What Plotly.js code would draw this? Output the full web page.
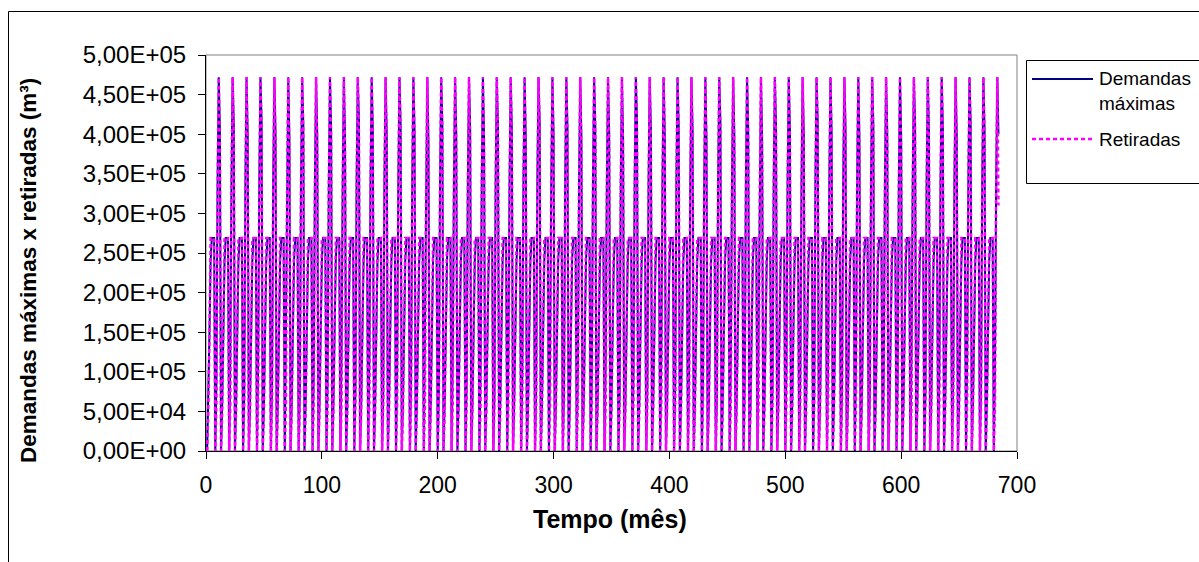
<!DOCTYPE html>
<html>
<head>
<meta charset="utf-8">
<script src="https://cdn.plot.ly/plotly-3.0.1.min.js"></script>
<style>
html,body{margin:0;padding:0;background:#fff;}
#chart{width:1199px;height:562px;}
</style>
</head>
<body>
<div id="chart"></div>
<script>
// ---- data (monthly values, m³) ----
var nYears = 57;
// typical monthly shape within a year (months 1..11); months 9 and 12 vary per year
var demCycle = [0, 60000, 150000, 240000, 269000, 269000, 269000, 0, 90000, 340000, 472000];
var retCycle = [0, 50000, 150000, 269000, 269000, 269000, 269000, 0, 60000, 330000, 472000];
// month-9 demand for each year (start of the rise to the annual peak)
var demMonth9 = [90000, 120000, 70000, 110000, 85000, 130000, 75000, 100000, 95000, 125000,
  80000, 115000, 70000, 105000, 90000, 130000, 78000, 118000, 88000, 100000,
  72000, 122000, 95000, 84000, 128000, 76000, 110000, 92000, 120000, 70000,
  104000, 86000, 126000, 80000, 112000, 94000, 74000, 118000, 90000, 130000,
  82000, 106000, 98000, 72000, 124000, 88000, 114000, 78000, 102000, 92000,
  128000, 76000, 108000, 96000, 120000, 84000, 110000];
// month-12 values for each year (post-peak shoulder)
var demMonth12 = [405000, 410000, 398000, 415000, 402000, 395000, 412000, 400000, 408000, 396000,
  418000, 403000, 399000, 410000, 405000, 392000, 414000, 401000, 407000, 397000,
  411000, 404000, 394000, 416000, 400000, 409000, 398000, 413000, 402000, 395000,
  417000, 406000, 399000, 410000, 403000, 393000, 415000, 400000, 408000, 396000,
  412000, 404000, 398000, 414000, 401000, 407000, 395000, 411000, 403000, 399000,
  416000, 402000, 409000, 397000, 413000, 405000, 400000];
var retMonth12 = [380000, 395000, 372000, 400000, 385000, 370000, 398000, 382000, 390000, 375000,
  402000, 384000, 377000, 393000, 388000, 368000, 399000, 381000, 389000, 374000,
  396000, 386000, 371000, 401000, 380000, 391000, 376000, 397000, 383000, 372000,
  403000, 387000, 378000, 394000, 385000, 369000, 400000, 381000, 390000, 375000,
  397000, 386000, 377000, 399000, 382000, 389000, 373000, 395000, 384000, 378000,
  402000, 383000, 392000, 376000, 398000, 387000, 310000];
var xTickVals = [0, 100, 200, 300, 400, 500, 600, 700];
var yTickVals = [0, 50000, 100000, 150000, 200000, 250000, 300000, 350000, 400000, 450000, 500000];
var yTickText = ["0,00E+00", "5,00E+04", "1,00E+05", "1,50E+05", "2,00E+05", "2,50E+05",
  "3,00E+05", "3,50E+05", "4,00E+05", "4,50E+05", "5,00E+05"];

// ---- assemble monthly series from the arrays above ----
var months = [], demandas = [], retiradas = [];
for (var y = 0; y < nYears; y++) {
  for (var m = 0; m < 12; m++) {
    months.push(y * 12 + m + 1);
    var d = m < 11 ? demCycle[m] : demMonth12[y];
    if (m === 8) d = demMonth9[y];
    demandas.push(d);
    retiradas.push(m < 11 ? retCycle[m] : retMonth12[y]);
  }
}

var FONT = "Liberation Sans, Arial, sans-serif";
var BLUE = "#000080", MAG = "#FF00FF";
var traces = [
  {x: months, y: demandas, type: "scatter", mode: "lines", name: "Demandas máximas",
   line: {color: BLUE, width: 2}, showlegend: false},
  {x: months, y: retiradas, type: "scatter", mode: "lines", name: "Retiradas",
   line: {color: MAG, width: 2.5, dash: "4px,3px"}, showlegend: false}
];

var L = 206, R = 182, T = 55, B = 111, W = 1199, H = 562;
var pw = W - L - R, ph = H - T - B;
function px(x){ return (x - L) / pw; }
function py(y){ return (H - B - y) / ph; }

var layout = {
  width: W, height: H,
  margin: {l: L, r: R, t: T, b: B, pad: 0},
  paper_bgcolor: "#fff", plot_bgcolor: "#fff",
  font: {family: FONT, size: 20, color: "#000"},
  showlegend: false,
  xaxis: {range: [0, 700], tickvals: xTickVals, ticktext: xTickVals.map(String),
    showgrid: false, zeroline: false, showline: true, linecolor: "#000", linewidth: 1,
    ticks: "outside", ticklen: 7, tickcolor: "#000", ticklabelstandoff: 6,
    tickfont: {family: FONT, size: 23}},
  yaxis: {range: [0, 500000], tickvals: yTickVals, ticktext: yTickText,
    showgrid: false, zeroline: false, showline: true, linecolor: "#000", linewidth: 1,
    ticks: "outside", ticklen: 7, tickcolor: "#000", ticklabelstandoff: 7,
    tickfont: {family: FONT, size: 24}},
  shapes: [
    {type: "rect", xref: "paper", yref: "paper", x0: 0, x1: 1, y0: 0, y1: 1,
     line: {color: "#808080", width: 1}, layer: "below"},
    {type: "rect", xref: "paper", yref: "paper", x0: px(8.5), x1: px(1210), y0: py(580), y1: py(11.5),
     line: {color: "#000", width: 1}},
    // legend box and samples
    {type: "rect", xref: "paper", yref: "paper", x0: px(1026.5), x1: px(1210), y0: py(183.5), y1: py(60.5),
     line: {color: "#000", width: 1}, fillcolor: "#fff"},
    {type: "line", xref: "paper", yref: "paper", x0: px(1032), x1: px(1093), y0: py(79), y1: py(79),
     line: {color: BLUE, width: 2}},
    {type: "line", xref: "paper", yref: "paper", x0: px(1032), x1: px(1093), y0: py(139), y1: py(139),
     line: {color: MAG, width: 2.5, dash: "4px,3px"}}
  ],
  annotations: [
    {xref: "paper", yref: "paper", x: px(28), y: py(271), xanchor: "center", yanchor: "middle",
     text: "<b>Demandas máximas x retiradas (m³)</b>", textangle: -90, showarrow: false,
     font: {family: FONT, size: 22.5, color: "#000"}},
    {xref: "paper", yref: "paper", x: px(610), y: py(519), xanchor: "center", yanchor: "middle",
     text: "<b>Tempo (mês)</b>", showarrow: false,
     font: {family: FONT, size: 25, color: "#000"}},
    {xref: "paper", yref: "paper", x: px(1097), y: py(91), xanchor: "left", yanchor: "middle",
     text: "Demandas<br>máximas", align: "left", showarrow: false,
     font: {family: FONT, size: 19, color: "#000"}},
    {xref: "paper", yref: "paper", x: px(1097), y: py(139), xanchor: "left", yanchor: "middle",
     text: "Retiradas", align: "left", showarrow: false,
     font: {family: FONT, size: 19, color: "#000"}}
  ]
};

Plotly.newPlot("chart", traces, layout, {displayModeBar: false, staticPlot: true});
</script>
</body>
</html>
